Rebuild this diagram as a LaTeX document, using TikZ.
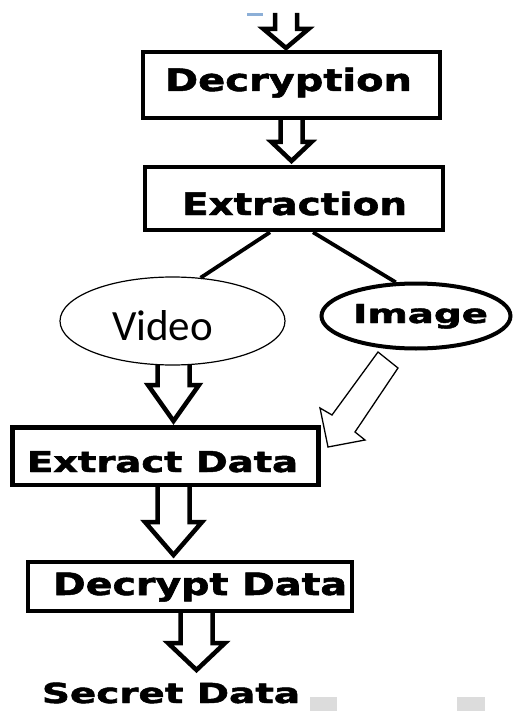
\documentclass[tikz,border=0pt]{standalone}
\usepackage{fontspec}
\usetikzlibrary{shapes.geometric,calc}
\newfontfamily\dejavu{DejaVu Sans}[BoldFeatures={FakeBold=1.6}]
\newfontfamily\carlito{Carlito}
\definecolor{bluemark}{RGB}{140,175,215}
\definecolor{lightsq}{RGB}{220,220,220}
\tikzset{
  box/.style={draw, line width=4.5pt, inner sep=0pt, rectangle},
  harrow/.style={draw, fill=white, line width=4.5pt, line join=miter, line cap=butt},
  thinarrow/.style={draw, fill=white, line width=1.3pt, line join=miter},
  conn/.style={line width=3.8pt},
  lbl/.style={anchor=base west, inner sep=0pt, outer sep=0pt},
}
% x, ytop, ytip, yheadbase, shaft half width, head half width
\newcommand\varrow[6]{\draw[harrow] (#1-#5,#2) -- (#1-#5,#4) -- (#1-#6,#4) -- (#1,#3) -- (#1+#6,#4) -- (#1+#5,#4) -- (#1+#5,#2);}
\begin{document}
\begin{tikzpicture}[x=1pt,y=-1pt]
\useasboundingbox (0,0) rectangle (515,711);
% small marks
\fill[bluemark] (247,13) rectangle (263,16);
\fill[lightsq] (310,697) rectangle (337,711);
\fill[lightsq] (457,697) rectangle (485,711);
% block arrows
\varrow{286}{13}{48}{29}{11}{22.5}
\varrow{291.5}{120}{161}{142}{11}{20}
\varrow{173.5}{365}{421}{385}{16}{25.5}
\varrow{173.5}{487}{555}{522}{16}{28.5}
\varrow{196.5}{613}{670}{643}{16}{28.5}
% boxes
\node[box, minimum width=297pt, minimum height=66pt] (dec) at (291.5,85) {};
\node[box, minimum width=298pt, minimum height=63pt] (ext) at (294,198.5) {};
\node[box, minimum width=306pt, minimum height=57.5pt] (exd) at (165.5,456) {};
\node[box, minimum width=324pt, minimum height=49pt] (dcd) at (190,586.5) {};
% ellipses
\node[ellipse, draw, line width=1.2pt, minimum width=225pt, minimum height=88pt, inner sep=0pt] (video) at (172.5,321) {};
\node[ellipse, draw, line width=4pt, minimum width=189pt, minimum height=65pt, inner sep=0pt] (image) at (416,316) {};
% connectors
\draw[conn] ([xshift=-24pt]ext.south) -- (video.57);
\draw[conn] ([xshift=19pt]ext.south) -- (image.121);
% oblique hollow arrow Image -> Extract Data
\coordinate (ia) at (378,352);
\coordinate (ib) at (398,368);
\coordinate (tip) at (328,447);
\draw[thinarrow] (ia) -- (ib) -- (355,432) -- (365,440) -- (tip) -- (320,408) -- (332,415) -- cycle;
% texts
\node[lbl] (decT) at (165,91) {\resizebox{247pt}{23.5pt}{\dejavu\bfseries Decryption}};
\node[lbl] (extT) at (182,215) {\resizebox{225pt}{23.5pt}{\dejavu\bfseries Extraction}};
\node[lbl] (vidT) at (112,340) {\resizebox{101pt}{30pt}{\carlito Video}};
\node[lbl] (imgT) at (353,323) {\resizebox{135pt}{19pt}{\dejavu\bfseries Image}};
\node[lbl] (exdT) at (27,472) {\resizebox{271pt}{21pt}{\dejavu\bfseries Extract Data}};
\node[lbl] (dcdT) at (53,595) {\resizebox{294pt}{22.5pt}{\dejavu\bfseries Decrypt Data}};
\node[lbl] (secT) at (42,703) {\resizebox{258pt}{20.5pt}{\dejavu\bfseries Secret Data}};
\end{tikzpicture}
\end{document}
